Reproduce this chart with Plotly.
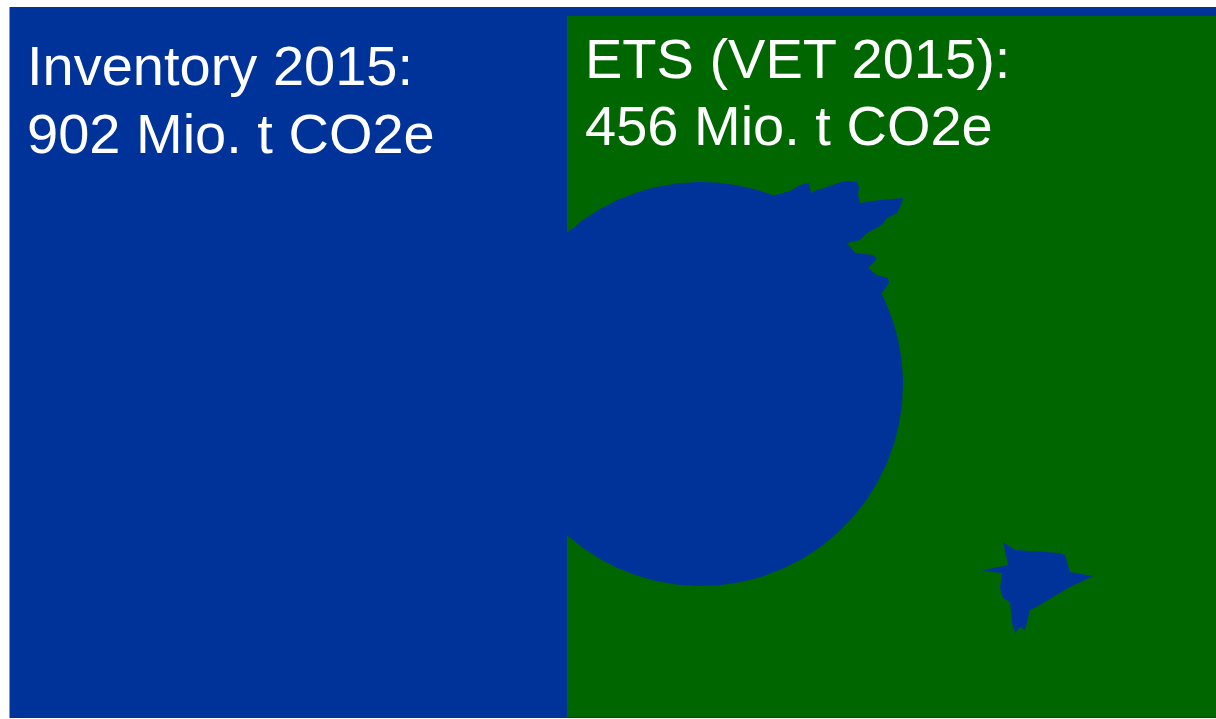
import numpy as np
import plotly.graph_objects as go

# ---- data ----
categories = ["Inventory 2015", "ETS (VET 2015)"]
values_mt = [902, 456]
unit = "Mio. t CO2e"
colors = ["#003399", "#006600"]

# extents of the two areas (page units, y downwards)
inventory_box = [9.5, 1216, 7, 718]     # x0, x1, y0, y1
ets_box = [567, 1216, 16, 717]

# overlap circle (blue part reaching into ETS area)
circle_center = [701, 384]
circle_radius = 202

# irregular blue outlines inside ETS area
blob_x = [775, 790, 800, 809, 811, 817, 827, 838, 847, 857, 859, 858, 860, 880, 903,
          901, 897, 887, 882, 875, 867, 860, 847, 855, 873, 877, 868, 877, 888, 889, 882, 701]
blob_y = [195, 191, 185, 183, 193, 190, 187, 183, 181, 182, 187, 195, 203, 200, 198,
          205, 213, 218, 225, 229, 233, 240, 243, 253, 255, 259, 268, 275, 278, 283, 293, 384]

star_x = [1003, 1015, 1060, 1065, 1070, 1093, 1087, 1070, 1053, 1040, 1030, 1028, 1025,
          1020, 1015, 1012, 1010, 1003, 1000, 1002, 982, 993, 1008]
star_y = [542, 550, 553, 555, 572, 576, 579, 587, 597, 605, 610, 617, 630,
          627, 633, 623, 602, 598, 588, 573, 571, 568, 565]

PAGE_W, PAGE_H = 1216, 719
fig = go.Figure()


def rect(box, color):
    x0, x1, y0, y1 = box
    fig.add_trace(go.Scatter(x=[x0, x1, x1, x0, x0], y=[y0, y0, y1, y1, y0],
                             mode="lines", fill="toself", fillcolor=color,
                             line=dict(width=0, color=color), hoverinfo="skip",
                             showlegend=False))


def poly(xs, ys, color):
    fig.add_trace(go.Scatter(x=list(xs) + [xs[0]], y=list(ys) + [ys[0]],
                             mode="lines", fill="toself", fillcolor=color,
                             line=dict(width=0, color=color), hoverinfo="skip",
                             showlegend=False))


rect(inventory_box, colors[0])
rect(ets_box, colors[1])

# circle clipped to ETS box (the rest is hidden by the blue inventory area anyway)
t = np.linspace(0, 2 * np.pi, 400)
cx = circle_center[0] + circle_radius * np.cos(t)
cy = circle_center[1] + circle_radius * np.sin(t)
cx = np.maximum(cx, ets_box[0])
poly(cx, cy, colors[0])
poly(blob_x, blob_y, colors[0])
poly(star_x, star_y, colors[0])

font = dict(family="Arial, Liberation Sans, sans-serif", size=56, color="white")
labels = [
    (25, 65, f"{categories[0]}:"),
    (25, 133, f"{values_mt[0]} {unit}"),
    (583, 58, f"{categories[1]}:"),
    (583, 125, f"{values_mt[1]} {unit}"),
]
for x, y, txt in labels:
    fig.add_annotation(x=x, y=y, xref="x", yref="y", text=txt, showarrow=False,
                       xanchor="left", yanchor="middle", font=font)

fig.update_layout(
    width=PAGE_W, height=PAGE_H, margin=dict(l=0, r=0, t=0, b=0),
    paper_bgcolor="white", plot_bgcolor="white",
    xaxis=dict(range=[0, PAGE_W], visible=False, fixedrange=True),
    yaxis=dict(range=[PAGE_H, 0], visible=False, fixedrange=True),
    showlegend=False,
)
fig.write_html(
    "out.html",
    config={"displayModeBar": False},
    post_script="document.body.style.margin='0';document.body.style.overflow='hidden';",
)
